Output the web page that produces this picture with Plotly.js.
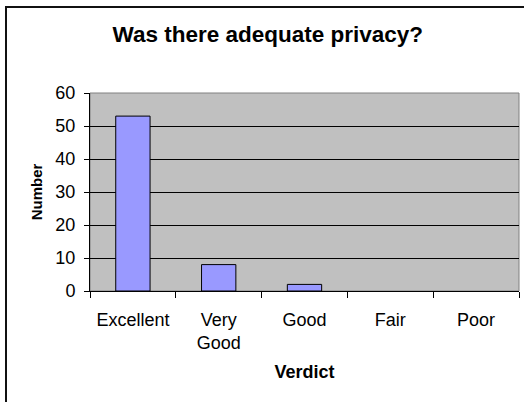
<!DOCTYPE html>
<html>
<head>
<meta charset="utf-8">
<script src="https://cdn.plot.ly/plotly-3.0.1.min.js"></script>
<style>
  html, body { margin: 0; padding: 0; background: #ffffff; }
  #chart { position: absolute; left: 0; top: 0; width: 524px; height: 402px; }
  #frame { position: absolute; left: 5px; top: 6px; width: 530px; height: 410px;
           border-left: 2px solid #111; border-top: 2px solid #111; pointer-events: none; }
</style>
</head>
<body>
<div id="chart"></div>
<div id="frame"></div>
<script>
const categories = ["Excellent", "Very<br>Good", "Good", "Fair", "Poor"];
const values = [53, 8, 2, 0, 0];
const yTicks = [0, 10, 20, 30, 40, 50, 60];

const font = "Liberation Sans, Arial, sans-serif";

const trace = {
  type: "bar",
  x: categories,
  y: values,
  marker: {
    color: "#9999FF",
    line: { color: "#000000", width: values.map(v => (v > 0 ? 1 : 0)) }
  },
  hoverinfo: "x+y"
};

const layout = {
  width: 524,
  height: 402,
  margin: { l: 90, r: 5, t: 93, b: 111 },
  paper_bgcolor: "rgba(0,0,0,0)",
  plot_bgcolor: "#C0C0C0",
  bargap: 0.6,
  showlegend: false,
  font: { family: font, color: "#000000", size: 18 },
  title: {
    text: "<b>Was there adequate privacy?</b>",
    font: { family: font, size: 22.5, color: "#000000" },
    xref: "container", x: 0.511, xanchor: "center",
    yref: "container", y: 0.916, yanchor: "middle"
  },
  xaxis: {
    type: "category",
    tickson: "boundaries",
    ticks: "outside", ticklen: 6, tickcolor: "#000000", tickwidth: 1,
    ticklabelstandoff: 12,
    showline: true, linecolor: "#000000", linewidth: 1,
    showgrid: false, zeroline: false,
    tickfont: { family: font, size: 18 },
    title: { text: "<b>Verdict</b>", font: { family: font, size: 18 }, standoff: 13 }
  },
  yaxis: {
    range: [0, 60],
    tickvals: yTicks,
    ticks: "outside", ticklen: 5, tickcolor: "#000000", tickwidth: 1,
    ticklabelstandoff: 5,
    showline: true, linecolor: "#000000", linewidth: 1,
    showgrid: true, gridcolor: "#000000", gridwidth: 1,
    zeroline: false,
    tickfont: { family: font, size: 18 },
    title: { text: "<b>Number</b>", font: { family: font, size: 15 }, standoff: 9 }
  },
  shapes: [{
    type: "rect", xref: "paper", yref: "paper", x0: 0, x1: 1, y0: 0, y1: 1,
    line: { color: "#808080", width: 1 }, layer: "below"
  }]
};

Plotly.newPlot("chart", [trace], layout, { staticPlot: true, displayModeBar: false });
</script>
</body>
</html>
